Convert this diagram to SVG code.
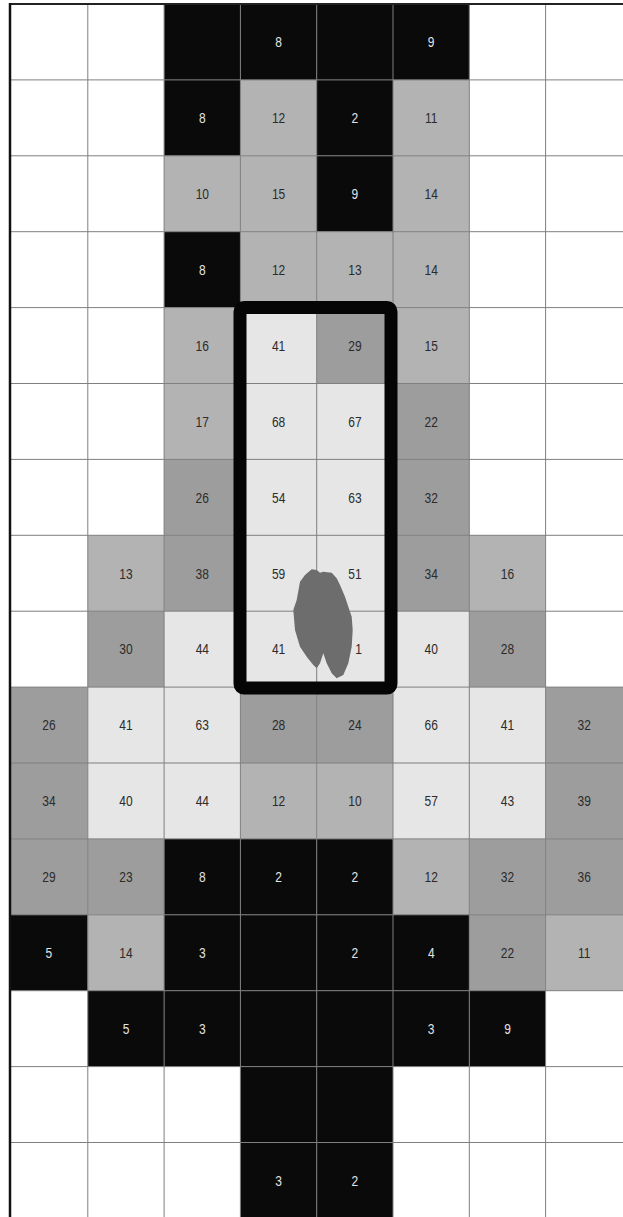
<svg xmlns="http://www.w3.org/2000/svg" width="623" height="1217" viewBox="0 0 623 1217">
<style>
.b{fill:#0a0a0a}.lg{fill:#b3b3b3}.mg{fill:#9d9d9d}.vl{fill:#e6e6e6}
text{font-family:"Liberation Sans",Arial,sans-serif;font-size:15px;text-anchor:middle;transform-box:fill-box;transform-origin:center;transform:scaleX(0.8)}
.tl{fill:#e4e4e4}.td{fill:#2b2b2b}
.grid line{stroke:#7f7f7f;stroke-width:1}
</style>
<rect x="0" y="0" width="623" height="1217" fill="#ffffff"/>
<g id="cells">
<g id="r0c2"><rect class="b" x="164.1" y="4" width="76.3" height="75.9"/></g>
<g id="r0c3"><rect class="b" x="240.4" y="4" width="76.3" height="75.9"/><text class="tl" x="278.6" y="47.3">8</text></g>
<g id="r0c4"><rect class="b" x="316.7" y="4" width="76.3" height="75.9"/></g>
<g id="r0c5"><rect class="b" x="393" y="4" width="76.3" height="75.9"/><text class="tl" x="431.2" y="47.3">9</text></g>

<g id="r1c2"><rect class="b" x="164.1" y="79.9" width="76.3" height="75.9"/><text class="tl" x="202.3" y="123.2">8</text></g>
<g id="r1c3"><rect class="lg" x="240.4" y="79.9" width="76.3" height="75.9"/><text class="td" x="278.6" y="123.2">12</text></g>
<g id="r1c4"><rect class="b" x="316.7" y="79.9" width="76.3" height="75.9"/><text class="tl" x="354.9" y="123.2">2</text></g>
<g id="r1c5"><rect class="lg" x="393" y="79.9" width="76.3" height="75.9"/><text class="td" x="431.2" y="123.2">11</text></g>

<g id="r2c2"><rect class="lg" x="164.1" y="155.8" width="76.3" height="75.9"/><text class="td" x="202.3" y="199.1">10</text></g>
<g id="r2c3"><rect class="lg" x="240.4" y="155.8" width="76.3" height="75.9"/><text class="td" x="278.6" y="199.1">15</text></g>
<g id="r2c4"><rect class="b" x="316.7" y="155.8" width="76.3" height="75.9"/><text class="tl" x="354.9" y="199.1">9</text></g>
<g id="r2c5"><rect class="lg" x="393" y="155.8" width="76.3" height="75.9"/><text class="td" x="431.2" y="199.1">14</text></g>

<g id="r3c2"><rect class="b" x="164.1" y="231.7" width="76.3" height="75.9"/><text class="tl" x="202.3" y="275">8</text></g>
<g id="r3c3"><rect class="lg" x="240.4" y="231.7" width="76.3" height="75.9"/><text class="td" x="278.6" y="275">12</text></g>
<g id="r3c4"><rect class="lg" x="316.7" y="231.7" width="76.3" height="75.9"/><text class="td" x="354.9" y="275">13</text></g>
<g id="r3c5"><rect class="lg" x="393" y="231.7" width="76.3" height="75.9"/><text class="td" x="431.2" y="275">14</text></g>

<g id="r4c2"><rect class="lg" x="164.1" y="307.6" width="76.3" height="75.9"/><text class="td" x="202.3" y="350.9">16</text></g>
<g id="r4c3"><rect class="vl" x="240.4" y="307.6" width="76.3" height="75.9"/><text class="td" x="278.6" y="350.9">41</text></g>
<g id="r4c4"><rect class="mg" x="316.7" y="307.6" width="76.3" height="75.9"/><text class="td" x="354.9" y="350.9">29</text></g>
<g id="r4c5"><rect class="lg" x="393" y="307.6" width="76.3" height="75.9"/><text class="td" x="431.2" y="350.9">15</text></g>

<g id="r5c2"><rect class="lg" x="164.1" y="383.5" width="76.3" height="75.9"/><text class="td" x="202.3" y="426.8">17</text></g>
<g id="r5c3"><rect class="vl" x="240.4" y="383.5" width="76.3" height="75.9"/><text class="td" x="278.6" y="426.8">68</text></g>
<g id="r5c4"><rect class="vl" x="316.7" y="383.5" width="76.3" height="75.9"/><text class="td" x="354.9" y="426.8">67</text></g>
<g id="r5c5"><rect class="mg" x="393" y="383.5" width="76.3" height="75.9"/><text class="td" x="431.2" y="426.8">22</text></g>

<g id="r6c2"><rect class="mg" x="164.1" y="459.4" width="76.3" height="75.9"/><text class="td" x="202.3" y="502.7">26</text></g>
<g id="r6c3"><rect class="vl" x="240.4" y="459.4" width="76.3" height="75.9"/><text class="td" x="278.6" y="502.7">54</text></g>
<g id="r6c4"><rect class="vl" x="316.7" y="459.4" width="76.3" height="75.9"/><text class="td" x="354.9" y="502.7">63</text></g>
<g id="r6c5"><rect class="mg" x="393" y="459.4" width="76.3" height="75.9"/><text class="td" x="431.2" y="502.7">32</text></g>

<g id="r7c1"><rect class="lg" x="87.8" y="535.3" width="76.3" height="75.9"/><text class="td" x="126" y="578.6">13</text></g>
<g id="r7c2"><rect class="mg" x="164.1" y="535.3" width="76.3" height="75.9"/><text class="td" x="202.3" y="578.6">38</text></g>
<g id="r7c3"><rect class="vl" x="240.4" y="535.3" width="76.3" height="75.9"/><text class="td" x="278.6" y="578.6">59</text></g>
<g id="r7c4"><rect class="vl" x="316.7" y="535.3" width="76.3" height="75.9"/><text class="td" x="354.9" y="578.6">51</text></g>
<g id="r7c5"><rect class="mg" x="393" y="535.3" width="76.3" height="75.9"/><text class="td" x="431.2" y="578.6">34</text></g>
<g id="r7c6"><rect class="lg" x="469.3" y="535.3" width="76.3" height="75.9"/><text class="td" x="507.5" y="578.6">16</text></g>

<g id="r8c1"><rect class="mg" x="87.8" y="611.2" width="76.3" height="75.9"/><text class="td" x="126" y="654.5">30</text></g>
<g id="r8c2"><rect class="vl" x="164.1" y="611.2" width="76.3" height="75.9"/><text class="td" x="202.3" y="654.5">44</text></g>
<g id="r8c3"><rect class="vl" x="240.4" y="611.2" width="76.3" height="75.9"/><text class="td" x="278.6" y="654.5">41</text></g>
<g id="r8c4"><rect class="vl" x="316.7" y="611.2" width="76.3" height="75.9"/><text class="td" x="358.5" y="654.5">1</text></g>
<g id="r8c5"><rect class="vl" x="393" y="611.2" width="76.3" height="75.9"/><text class="td" x="431.2" y="654.5">40</text></g>
<g id="r8c6"><rect class="mg" x="469.3" y="611.2" width="76.3" height="75.9"/><text class="td" x="507.5" y="654.5">28</text></g>

<g id="r9c0"><rect class="mg" x="10" y="687.1" width="77.8" height="75.9"/><text class="td" x="48.9" y="730.4">26</text></g>
<g id="r9c1"><rect class="vl" x="87.8" y="687.1" width="76.3" height="75.9"/><text class="td" x="126" y="730.4">41</text></g>
<g id="r9c2"><rect class="vl" x="164.1" y="687.1" width="76.3" height="75.9"/><text class="td" x="202.3" y="730.4">63</text></g>
<g id="r9c3"><rect class="mg" x="240.4" y="687.1" width="76.3" height="75.9"/><text class="td" x="278.6" y="730.4">28</text></g>
<g id="r9c4"><rect class="mg" x="316.7" y="687.1" width="76.3" height="75.9"/><text class="td" x="354.9" y="730.4">24</text></g>
<g id="r9c5"><rect class="vl" x="393" y="687.1" width="76.3" height="75.9"/><text class="td" x="431.2" y="730.4">66</text></g>
<g id="r9c6"><rect class="vl" x="469.3" y="687.1" width="76.3" height="75.9"/><text class="td" x="507.5" y="730.4">41</text></g>
<g id="r9c7"><rect class="mg" x="545.6" y="687.1" width="77.4" height="75.9"/><text class="td" x="584.3" y="730.4">32</text></g>

<g id="r10c0"><rect class="mg" x="10" y="763" width="77.8" height="75.9"/><text class="td" x="48.9" y="806.3">34</text></g>
<g id="r10c1"><rect class="vl" x="87.8" y="763" width="76.3" height="75.9"/><text class="td" x="126" y="806.3">40</text></g>
<g id="r10c2"><rect class="vl" x="164.1" y="763" width="76.3" height="75.9"/><text class="td" x="202.3" y="806.3">44</text></g>
<g id="r10c3"><rect class="lg" x="240.4" y="763" width="76.3" height="75.9"/><text class="td" x="278.6" y="806.3">12</text></g>
<g id="r10c4"><rect class="lg" x="316.7" y="763" width="76.3" height="75.9"/><text class="td" x="354.9" y="806.3">10</text></g>
<g id="r10c5"><rect class="vl" x="393" y="763" width="76.3" height="75.9"/><text class="td" x="431.2" y="806.3">57</text></g>
<g id="r10c6"><rect class="vl" x="469.3" y="763" width="76.3" height="75.9"/><text class="td" x="507.5" y="806.3">43</text></g>
<g id="r10c7"><rect class="mg" x="545.6" y="763" width="77.4" height="75.9"/><text class="td" x="584.3" y="806.3">39</text></g>

<g id="r11c0"><rect class="mg" x="10" y="838.9" width="77.8" height="75.9"/><text class="td" x="48.9" y="882.2">29</text></g>
<g id="r11c1"><rect class="mg" x="87.8" y="838.9" width="76.3" height="75.9"/><text class="td" x="126" y="882.2">23</text></g>
<g id="r11c2"><rect class="b" x="164.1" y="838.9" width="76.3" height="75.9"/><text class="tl" x="202.3" y="882.2">8</text></g>
<g id="r11c3"><rect class="b" x="240.4" y="838.9" width="76.3" height="75.9"/><text class="tl" x="278.6" y="882.2">2</text></g>
<g id="r11c4"><rect class="b" x="316.7" y="838.9" width="76.3" height="75.9"/><text class="tl" x="354.9" y="882.2">2</text></g>
<g id="r11c5"><rect class="lg" x="393" y="838.9" width="76.3" height="75.9"/><text class="td" x="431.2" y="882.2">12</text></g>
<g id="r11c6"><rect class="mg" x="469.3" y="838.9" width="76.3" height="75.9"/><text class="td" x="507.5" y="882.2">32</text></g>
<g id="r11c7"><rect class="mg" x="545.6" y="838.9" width="77.4" height="75.9"/><text class="td" x="584.3" y="882.2">36</text></g>

<g id="r12c0"><rect class="b" x="10" y="914.8" width="77.8" height="75.9"/><text class="tl" x="48.9" y="958.1">5</text></g>
<g id="r12c1"><rect class="lg" x="87.8" y="914.8" width="76.3" height="75.9"/><text class="td" x="126" y="958.1">14</text></g>
<g id="r12c2"><rect class="b" x="164.1" y="914.8" width="76.3" height="75.9"/><text class="tl" x="202.3" y="958.1">3</text></g>
<g id="r12c3"><rect class="b" x="240.4" y="914.8" width="76.3" height="75.9"/></g>
<g id="r12c4"><rect class="b" x="316.7" y="914.8" width="76.3" height="75.9"/><text class="tl" x="354.9" y="958.1">2</text></g>
<g id="r12c5"><rect class="b" x="393" y="914.8" width="76.3" height="75.9"/><text class="tl" x="431.2" y="958.1">4</text></g>
<g id="r12c6"><rect class="mg" x="469.3" y="914.8" width="76.3" height="75.9"/><text class="td" x="507.5" y="958.1">22</text></g>
<g id="r12c7"><rect class="lg" x="545.6" y="914.8" width="77.4" height="75.9"/><text class="td" x="584.3" y="958.1">11</text></g>

<g id="r13c1"><rect class="b" x="87.8" y="990.7" width="76.3" height="75.9"/><text class="tl" x="126" y="1034">5</text></g>
<g id="r13c2"><rect class="b" x="164.1" y="990.7" width="76.3" height="75.9"/><text class="tl" x="202.3" y="1034">3</text></g>
<g id="r13c3"><rect class="b" x="240.4" y="990.7" width="76.3" height="75.9"/></g>
<g id="r13c4"><rect class="b" x="316.7" y="990.7" width="76.3" height="75.9"/></g>
<g id="r13c5"><rect class="b" x="393" y="990.7" width="76.3" height="75.9"/><text class="tl" x="431.2" y="1034">3</text></g>
<g id="r13c6"><rect class="b" x="469.3" y="990.7" width="76.3" height="75.9"/><text class="tl" x="507.5" y="1034">9</text></g>

<g id="r14c3"><rect class="b" x="240.4" y="1066.6" width="76.3" height="75.9"/></g>
<g id="r14c4"><rect class="b" x="316.7" y="1066.6" width="76.3" height="75.9"/></g>

<g id="r15c3"><rect class="b" x="240.4" y="1142.5" width="76.3" height="74.5"/><text class="tl" x="278.6" y="1185.8">3</text></g>
<g id="r15c4"><rect class="b" x="316.7" y="1142.5" width="76.3" height="74.5"/><text class="tl" x="354.9" y="1185.8">2</text></g>
</g>
<g id="grid" class="grid">
<line x1="87.8" y1="4" x2="87.8" y2="1217"/>
<line x1="164.1" y1="4" x2="164.1" y2="1217"/>
<line x1="240.4" y1="4" x2="240.4" y2="1217"/>
<line x1="316.7" y1="4" x2="316.7" y2="1217"/>
<line x1="393" y1="4" x2="393" y2="1217"/>
<line x1="469.3" y1="4" x2="469.3" y2="1217"/>
<line x1="545.6" y1="4" x2="545.6" y2="1217"/>
<line x1="10" y1="79.9" x2="623" y2="79.9"/>
<line x1="10" y1="155.8" x2="623" y2="155.8"/>
<line x1="10" y1="231.7" x2="623" y2="231.7"/>
<line x1="10" y1="307.6" x2="623" y2="307.6"/>
<line x1="10" y1="383.5" x2="623" y2="383.5"/>
<line x1="10" y1="459.4" x2="623" y2="459.4"/>
<line x1="10" y1="535.3" x2="623" y2="535.3"/>
<line x1="10" y1="611.2" x2="623" y2="611.2"/>
<line x1="10" y1="687.1" x2="623" y2="687.1"/>
<line x1="10" y1="763" x2="623" y2="763"/>
<line x1="10" y1="838.9" x2="623" y2="838.9"/>
<line x1="10" y1="914.8" x2="623" y2="914.8"/>
<line x1="10" y1="990.7" x2="623" y2="990.7"/>
<line x1="10" y1="1066.6" x2="623" y2="1066.6"/>
<line x1="10" y1="1142.5" x2="623" y2="1142.5"/>
<line x1="10" y1="4" x2="623" y2="4" style="stroke:#222;stroke-width:2"/>
<line x1="10" y1="3" x2="10" y2="1217" style="stroke:#111;stroke-width:2.5"/>
</g>
<g id="highlight">
<rect x="240" y="307.5" width="151" height="380.5" rx="4" fill="none" stroke="#050505" stroke-width="13"/>
</g>
<g id="blob">
<path fill="#6d6d6d" d="M311.7,569.3 L316.7,570 L320,572.7 L323.3,571.7 L331.7,572.7 L336.7,578.3 L340,585 L345,596.7 L348.3,606.7 L351.7,616.7 L352.7,630 L351.7,646.7 L348.3,663.3 L343.3,675 L336.7,678.3 L331.7,673.3 L326.7,663.3 L323.3,653.3 L320,663.3 L316.7,668.3 L313.3,665 L306.7,656.7 L300,646.7 L295,630 L293.3,610 L296.7,600 L300,581.7 L305,575 Z"/>
</g>
</svg>
